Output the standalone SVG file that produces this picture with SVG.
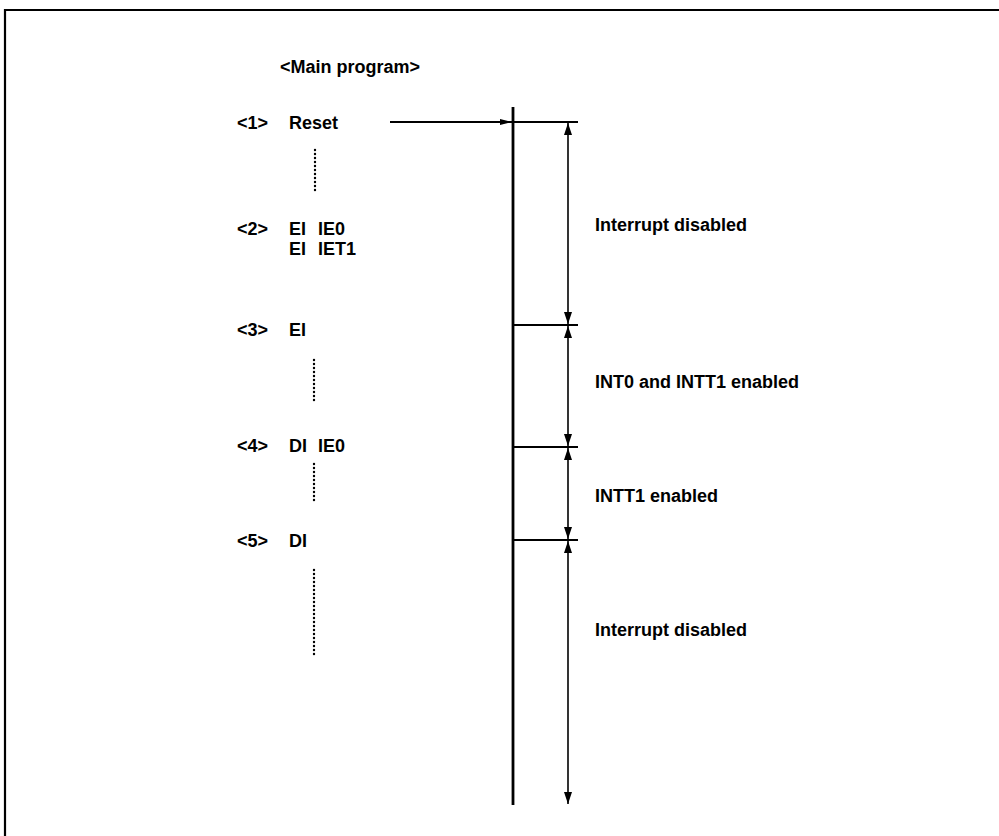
<svg xmlns="http://www.w3.org/2000/svg" width="999" height="836" viewBox="0 0 999 836">
<style>
text{font-family:"Liberation Sans",Arial,sans-serif;font-size:18px;font-weight:bold;fill:#000}
.main{stroke:#000;stroke-width:2.8;fill:none}
.tick{stroke:#000;stroke-width:2;fill:none}
.dim{stroke:#000;stroke-width:1.6;fill:none}
.dots{stroke:#000;stroke-width:2.4;fill:none;stroke-dasharray:0 4;stroke-linecap:round}
.frame{stroke:#000;stroke-width:2.2;fill:none}
</style>
<defs>
<marker id="ah" viewBox="0 0 12 8" refX="12" refY="4" markerWidth="12" markerHeight="8" markerUnits="userSpaceOnUse" orient="auto-start-reverse">
<path d="M0,0 L12,4 L0,8 Z" fill="#000"/>
</marker>
<marker id="ahs" viewBox="0 0 12 6" refX="12" refY="3" markerWidth="12" markerHeight="6" markerUnits="userSpaceOnUse" orient="auto">
<path d="M0,0 L12,3 L0,6 Z" fill="#000"/>
</marker>
</defs>
<rect width="999" height="836" fill="#fff"/>
<g id="frame">
<polyline class="frame" points="5,836 5,10 999,10"/>
</g>
<g id="program">
<text x="280" y="73">&lt;Main program&gt;</text>
<g id="step1"><text x="237" y="129">&lt;1&gt;</text><text x="289" y="129">Reset</text></g>
<line class="dots" x1="315" y1="150" x2="315" y2="194"/>
<g id="step2"><text x="237" y="235">&lt;2&gt;</text><text x="289" y="235">EI</text><text x="318" y="235">IE0</text><text x="289" y="255">EI</text><text x="318" y="255">IET1</text></g>
<g id="step3"><text x="237" y="336">&lt;3&gt;</text><text x="289" y="336">EI</text></g>
<line class="dots" x1="314" y1="360" x2="314" y2="404"/>
<g id="step4"><text x="237" y="452">&lt;4&gt;</text><text x="289" y="452">DI</text><text x="318" y="452">IE0</text></g>
<line class="dots" x1="314" y1="464" x2="314" y2="504"/>
<g id="step5"><text x="237" y="547">&lt;5&gt;</text><text x="289" y="547">DI</text></g>
<line class="dots" x1="314" y1="570" x2="314" y2="658"/>
</g>
<g id="connectors">
<line class="tick" x1="390" y1="122" x2="512" y2="122" marker-end="url(#ahs)"/>
<line class="main" x1="513" y1="107" x2="513" y2="805"/>
<line class="tick" x1="513" y1="122" x2="578" y2="122"/>
<line class="tick" x1="513" y1="325" x2="578" y2="325"/>
<line class="tick" x1="513" y1="447" x2="578" y2="447"/>
<line class="tick" x1="513" y1="540" x2="578" y2="540"/>
<line class="dim" x1="568" y1="123" x2="568" y2="324" marker-start="url(#ah)" marker-end="url(#ah)"/>
<line class="dim" x1="568" y1="326" x2="568" y2="446" marker-start="url(#ah)" marker-end="url(#ah)"/>
<line class="dim" x1="568" y1="448" x2="568" y2="539" marker-start="url(#ah)" marker-end="url(#ah)"/>
<line class="dim" x1="568" y1="541" x2="568" y2="804" marker-start="url(#ah)" marker-end="url(#ah)"/>
</g>
<g id="labels">
<text x="595" y="231">Interrupt disabled</text>
<text x="595" y="388">INT0 and INTT1 enabled</text>
<text x="595" y="502">INTT1 enabled</text>
<text x="595" y="636">Interrupt disabled</text>
</g>
</svg>
